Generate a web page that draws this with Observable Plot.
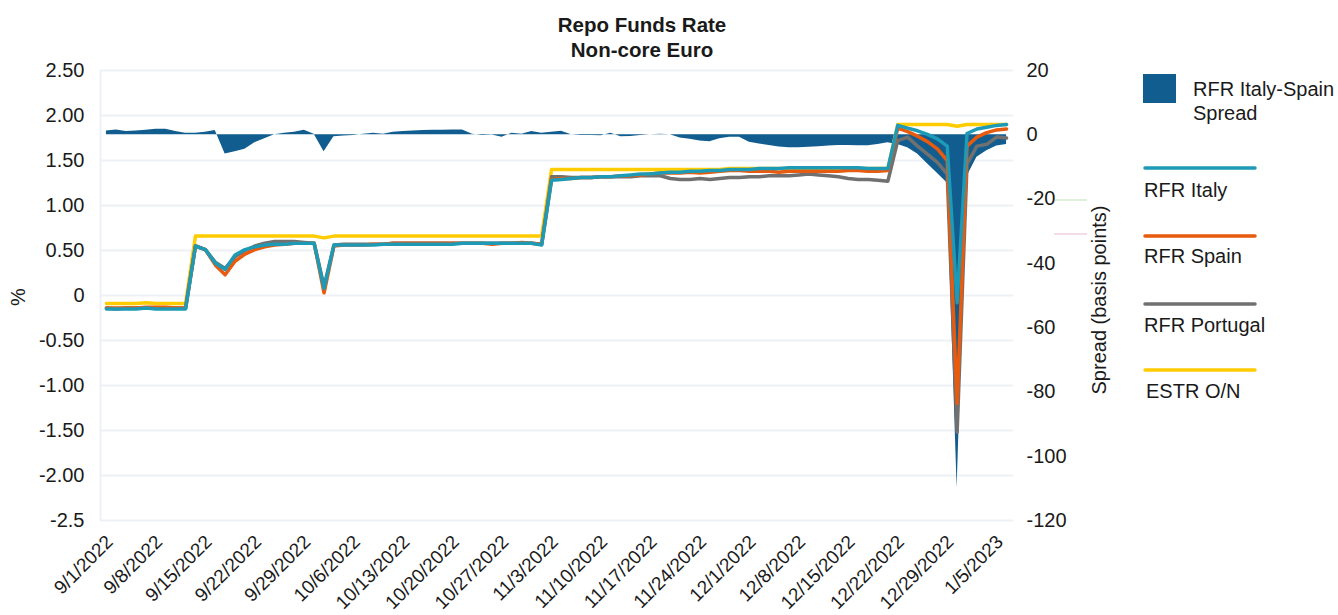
<!DOCTYPE html>
<html><head><meta charset="utf-8">
<script src="https://cdn.jsdelivr.net/npm/d3@7"></script>
<script src="https://cdn.jsdelivr.net/npm/@observablehq/plot@0.6"></script>
<style>
body{margin:0;background:#fff;}
#wrap{position:relative;width:1338px;height:615px;font-family:"Liberation Sans",Arial,sans-serif;}
#overlay{position:absolute;left:0;top:0;pointer-events:none;}
</style></head><body><div id="wrap"></div>
<script>
const dates = ["9/1/2022","9/2/2022","9/5/2022","9/6/2022","9/7/2022","9/8/2022","9/9/2022","9/12/2022","9/13/2022","9/14/2022","9/15/2022","9/16/2022","9/19/2022","9/20/2022","9/21/2022","9/22/2022","9/23/2022","9/26/2022","9/27/2022","9/28/2022","9/29/2022","9/30/2022",
"10/3/2022","10/4/2022","10/5/2022","10/6/2022","10/7/2022","10/10/2022","10/11/2022","10/12/2022","10/13/2022","10/14/2022","10/17/2022","10/18/2022","10/19/2022","10/20/2022","10/21/2022","10/24/2022","10/25/2022","10/26/2022","10/27/2022","10/28/2022","10/31/2022",
"11/1/2022","11/2/2022","11/3/2022","11/4/2022","11/7/2022","11/8/2022","11/9/2022","11/10/2022","11/11/2022","11/14/2022","11/15/2022","11/16/2022","11/17/2022","11/18/2022","11/21/2022","11/22/2022","11/23/2022","11/24/2022","11/25/2022","11/28/2022","11/29/2022","11/30/2022",
"12/1/2022","12/2/2022","12/5/2022","12/6/2022","12/7/2022","12/8/2022","12/9/2022","12/12/2022","12/13/2022","12/14/2022","12/15/2022","12/16/2022","12/19/2022","12/20/2022","12/21/2022","12/22/2022","12/23/2022","12/26/2022","12/27/2022","12/28/2022","12/29/2022","12/30/2022",
"1/2/2023","1/3/2023","1/4/2023","1/5/2023","1/6/2023"];

const estr = [-0.09,-0.09,-0.09,-0.09,-0.08,-0.09,-0.09,-0.09,-0.09,
0.66,0.66,0.66,0.66,0.66,0.66,0.66,0.66,0.66,0.66,0.66,0.66,0.66,
0.64,
0.66,0.66,0.66,0.66,0.66,0.66,0.66,0.66,0.66,0.66,0.66,0.66,0.66,0.66,0.66,0.66,0.66,0.66,0.66,0.66,0.66,0.66,
1.40,1.40,1.40,1.40,1.40,1.40,1.40,1.40,1.40,1.40,1.40,1.40,1.40,1.40,1.40,1.40,1.40,1.40,
1.41,1.41,1.41,1.41,1.41,1.41,1.41,1.41,1.41,1.41,1.41,1.41,1.41,1.41,1.41,1.41,1.41,
1.90,1.90,1.90,1.90,1.90,1.90,1.88,1.90,1.90,1.90,1.90,1.90];

const italy = [-0.15,-0.15,-0.15,-0.15,-0.14,-0.15,-0.15,-0.15,-0.15,
0.55,0.51,0.36,0.29,0.45,0.51,0.54,0.56,0.57,0.57,0.58,0.58,0.58,0.08,0.56,
0.56,0.56,0.56,0.56,0.57,0.57,0.57,0.57,0.57,0.57,0.57,0.57,0.58,0.58,0.58,0.58,0.58,0.58,0.58,0.58,0.56,
1.28,1.29,1.30,1.31,1.31,1.32,1.32,1.33,1.34,1.35,1.35,1.36,1.37,1.37,1.38,1.38,1.39,1.39,1.40,1.40,1.40,1.41,1.41,1.41,1.42,1.42,1.42,1.42,1.42,1.42,1.42,1.42,1.41,1.41,1.41,
1.89,1.86,1.83,1.79,1.74,1.66,-0.08,1.80,1.85,1.87,1.89,1.90];

const spain = [-0.14,-0.14,-0.14,-0.14,-0.13,-0.13,-0.13,-0.14,-0.14,
0.55,0.51,0.34,0.23,0.38,0.46,0.51,0.54,0.56,0.57,0.58,0.58,0.58,0.03,0.55,
0.56,0.56,0.56,0.57,0.57,0.58,0.58,0.58,0.58,0.58,0.58,0.58,0.58,0.58,0.58,0.57,0.58,0.58,0.59,0.58,0.57,
1.29,1.30,1.30,1.31,1.31,1.32,1.32,1.33,1.33,1.34,1.35,1.36,1.36,1.36,1.37,1.36,1.37,1.38,1.39,1.39,1.38,1.38,1.38,1.37,1.38,1.38,1.38,1.38,1.38,1.38,1.39,1.39,1.38,1.38,1.39,
1.86,1.82,1.77,1.71,1.63,1.50,-1.20,1.66,1.76,1.81,1.84,1.85];

const portugal = [-0.14,-0.15,-0.14,-0.14,-0.14,-0.14,-0.14,-0.14,-0.14,
0.55,0.51,0.37,0.30,0.43,0.50,0.55,0.58,0.60,0.60,0.60,0.59,0.58,0.10,0.56,
0.57,0.57,0.57,0.57,0.57,0.58,0.58,0.58,0.58,0.58,0.58,0.58,0.58,0.58,0.58,0.58,0.58,0.58,0.58,0.58,0.57,
1.32,1.32,1.31,1.31,1.31,1.32,1.32,1.32,1.32,1.33,1.33,1.33,1.30,1.29,1.29,1.30,1.29,1.30,1.31,1.31,1.32,1.32,1.33,1.33,1.33,1.34,1.35,1.34,1.33,1.32,1.30,1.29,1.29,1.28,1.27,
1.72,1.76,1.66,1.57,1.48,1.35,-1.52,1.46,1.66,1.68,1.76,1.75];

// Italy-Spain spread, basis points (right axis)
const spread = [1.2,1.5,1.0,1.2,1.4,1.7,1.7,1.0,0.5,
0.5,0.8,1.3,-6.0,-5.3,-4.5,-2.5,-1.2,0.0,0.5,0.8,1.4,0.2,-5.3,-0.6,
-0.4,-0.2,0.2,0.5,0.2,0.8,1.0,1.2,1.3,1.4,1.4,1.5,1.5,0.2,-0.2,-0.1,-0.8,0.5,0.2,1.0,0.5,
0.8,1.1,0.0,-0.2,-0.2,-0.3,0.5,-0.6,-0.5,-0.2,0.0,0.2,0.0,-1.0,-1.4,-1.9,-2.2,-1.2,-0.8,-0.8,-2.3,-2.9,-3.3,-3.8,-4.0,-4.0,-3.9,-3.7,-3.5,-3.3,-3.3,-3.4,-3.4,-3.0,-2.5,
-3,-4,-6,-9,-12,-15,-110,-13,-7,-5,-3.5,-3];

const leftTicks = [2.5,2,1.5,1,0.5,0,-0.5,-1,-1.5,-2,-2.5];
const leftLabels = ["2.50","2.00","1.50","1.00","0.50","0","-0.50","-1.00","-1.50","-2.00","-2.5"];
const rightTicks = [20,0,-20,-40,-60,-80,-100,-120];
const rightLabels = ["20","0","-20","-40","-60","-80","-100","-120"];
const seriesNames = ["RFR Italy-Spain Spread","RFR Italy","RFR Spain","RFR Portugal","ESTR O/N"];
const colors = {spread:"#115d8f", italy:"#1d9ab6", spain:"#e85a0e", portugal:"#707070", estr:"#ffcc00"};

// right axis (bp) expressed on the left (%) scale: 20bp <-> 2.5%, -120bp <-> -2.5%
const toLeft = bp => 2.5 + (bp - 20) / 28;
const rightPos = rightTicks.map(toLeft);
const base = toLeft(0);
const rows = dates.map((d, i) => ({i, date: d, estr: estr[i], italy: italy[i], spain: spain[i], portugal: portugal[i], spread: spread[i]}));
const xTicks = d3.range(0, dates.length, 5);
const xDomain = [-0.6, 91.7];
const font = '"Liberation Sans", Arial, sans-serif';

const plot = Plot.plot({
  width: 1338, height: 615,
  marginLeft: 100, marginRight: 325, marginTop: 70, marginBottom: 95,
  style: {fontFamily: font, fontSize: "20px", color: "#1a1a1a", background: "#fff", overflow: "visible"},
  x: {type: "linear", domain: xDomain, axis: null},
  y: {domain: [-2.5, 2.5], axis: null},
  marks: [
    Plot.gridY(leftTicks, {stroke: "#edf1f6", strokeOpacity: 1, strokeWidth: 2}),
    Plot.ruleX([xDomain[0]], {stroke: "#edf1f6", strokeWidth: 2}),
    Plot.areaY(rows, {x: "i", y1: () => base, y2: d => toLeft(d.spread), fill: colors.spread}),
    Plot.lineY(rows, {x: "i", y: "estr", stroke: colors.estr, strokeWidth: 3.5}),
    Plot.lineY(rows, {x: "i", y: "portugal", stroke: colors.portugal, strokeWidth: 3.5}),
    Plot.lineY(rows, {x: "i", y: "spain", stroke: colors.spain, strokeWidth: 3.5}),
    Plot.lineY(rows, {x: "i", y: "italy", stroke: colors.italy, strokeWidth: 3.5}),
    Plot.axisY(leftTicks, {anchor: "left", tickSize: 0, tickPadding: 16, label: null,
      tickFormat: d => leftLabels[leftTicks.indexOf(d)]}),
    Plot.axisY(rightPos, {anchor: "right", tickSize: 0, tickPadding: 13, label: null,
      tickFormat: d => rightLabels[rightPos.indexOf(d)]}),
    Plot.text(xTicks, {x: d => d, frameAnchor: "bottom", text: d => dates[d], rotate: -45,
      textAnchor: "end", lineAnchor: "top", dx: -2, dy: 13, fontSize: 19, fill: "#1a1a1a"})
  ]
});
const wrap = document.getElementById("wrap");
wrap.appendChild(plot);

// overlay: title, axis titles, legend
const svg = d3.select(wrap).append("svg").attr("id", "overlay")
  .attr("width", 1338).attr("height", 615)
  .style("font-family", font).style("fill", "#1a1a1a");

svg.append("text").attr("x", 642).attr("y", 31.5).attr("text-anchor", "middle")
  .style("font-size", "20.5px").style("font-weight", "bold").text("Repo Funds Rate");
svg.append("text").attr("x", 642).attr("y", 56.5).attr("text-anchor", "middle")
  .style("font-size", "20.5px").style("font-weight", "bold").text("Non-core Euro");

svg.append("text").attr("transform", "translate(18,297) rotate(-90)").attr("text-anchor", "middle")
  .attr("dy", "0.35em").style("font-size", "20px").text("%");
svg.append("text").attr("transform", "translate(1099,300) rotate(-90)").attr("text-anchor", "middle")
  .attr("dy", "0.35em").style("font-size", "20px").text("Spread (basis points)");

// faint stray legend remnants seen in the original
svg.append("line").attr("x1", 1055).attr("x2", 1087).attr("y1", 200).attr("y2", 200)
  .attr("stroke", "#b9e3b0").attr("stroke-width", 1);
svg.append("line").attr("x1", 1054).attr("x2", 1087).attr("y1", 234).attr("y2", 234)
  .attr("stroke", "#e6b8cf").attr("stroke-width", 1);

// legend
svg.append("rect").attr("x", 1143).attr("y", 74).attr("width", 33).attr("height", 29).attr("fill", colors.spread);
svg.append("text").attr("x", 1193).attr("y", 96).style("font-size", "20px").text("RFR Italy-Spain");
svg.append("text").attr("x", 1193).attr("y", 120).style("font-size", "20px").text("Spread");
const lineItems = [
  {name: seriesNames[1], color: colors.italy, ly: 168, ty: 197, tx: 1144},
  {name: seriesNames[2], color: colors.spain, ly: 236, ty: 263, tx: 1144},
  {name: seriesNames[3], color: colors.portugal, ly: 304, ty: 332, tx: 1144},
  {name: seriesNames[4], color: colors.estr, ly: 370, ty: 398, tx: 1146}
];
for (const it of lineItems) {
  svg.append("line").attr("x1", 1145).attr("x2", 1255).attr("y1", it.ly).attr("y2", it.ly)
    .attr("stroke", it.color).attr("stroke-width", 3.5).attr("stroke-linecap", "round");
  svg.append("text").attr("x", it.tx).attr("y", it.ty).style("font-size", "20px").text(it.name);
}
</script></body></html>
